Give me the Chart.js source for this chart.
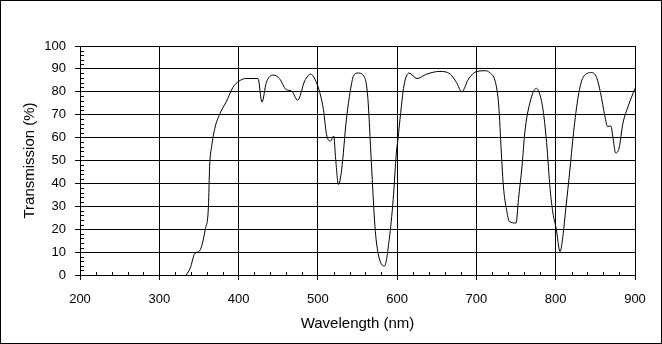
<!DOCTYPE html>
<html>
<head>
<meta charset="utf-8">
<script src="https://cdn.jsdelivr.net/npm/chart.js@4/dist/chart.umd.min.js"></script>
<style>
  html, body { margin: 0; padding: 0; background: #fff; }
  #wrap { width: 662px; height: 344px; position: relative; }
</style>
</head>
<body>
<div id="wrap"><canvas id="c" width="662" height="344"></canvas></div>
<script>
// Data
const wavelengths = [334, 339, 345, 351, 358, 362, 363.5, 366, 370, 376.5, 385, 393, 400, 409, 424.5, 429.5, 435, 444, 451.5, 460, 467, 474.5, 483.5, 491, 497, 502.5, 507, 511, 516, 520, 522.5, 526, 530, 536, 541, 545, 550.5, 559, 563, 567.5, 572, 576, 584, 590, 595, 599, 601, 604.5, 608.5, 615, 625, 637, 654, 667, 675, 681.5, 690, 700.5, 711, 717, 723.5, 727.5, 729, 730.5, 734, 738, 741.5, 750, 753, 757.5, 761, 767.5, 775.5, 780.5, 784.5, 788.5, 793, 796.5, 800.5, 805.5, 809, 813, 817.5, 822.5, 828.5, 834.5, 845.5, 851.5, 856.5, 862, 865.5, 869.5, 872.5, 875.5, 880, 884.5, 891.5, 900];
const transmission = [0, 3, 9.5, 10.6, 20, 30, 47.5, 56, 64, 70.5, 76, 82, 84.5, 85.8, 85.8, 75.5, 84, 87.3, 85.8, 81, 80.3, 76.3, 84.8, 87.7, 85, 79.6, 72.3, 61.3, 58.5, 60.7, 50.4, 39.5, 46, 68, 80.5, 87, 88.2, 86.3, 77.5, 49, 21.2, 9.5, 3.9, 15.4, 33, 53.3, 59.3, 70.9, 82.5, 88.2, 85.8, 87.7, 88.9, 87.7, 84, 80, 85.6, 88.9, 89.2, 88.3, 84.8, 76.5, 69.4, 59.3, 38.8, 28.5, 23.4, 22.7, 33, 47.5, 62.2, 75.3, 81.5, 78.2, 70.9, 57.8, 37.3, 27, 20.5, 10.2, 16.8, 30, 44.6, 62.2, 78.2, 86.3, 88.4, 86.3, 79.6, 69.4, 64.8, 65.1, 59.3, 53.3, 55.5, 65.8, 73.8, 81.5];
const xTicks = [200, 300, 400, 500, 600, 700, 800, 900];
const yTicks = [0, 10, 20, 30, 40, 50, 60, 70, 80, 90, 100];
const xMinorStep = 20;
const yMinorStep = 2;
const xTitle = 'Wavelength (nm)';
const yTitle = 'Transmission (%)';

const FONT = "'Liberation Sans', Arial, sans-serif";

const points = wavelengths.map((w, i) => ({ x: w, y: transmission[i] }));

const extras = {
  id: 'extras',
  beforeDraw(chart) {
    const ctx = chart.ctx;
    ctx.save();
    ctx.fillStyle = '#fff';
    ctx.fillRect(0, 0, chart.width, chart.height);
    ctx.restore();
  },
  afterDraw(chart) {
    const ctx = chart.ctx;
    const xs = chart.scales.x, ys = chart.scales.y;
    const area = chart.chartArea;
    ctx.save();
    ctx.strokeStyle = '#000';
    ctx.lineWidth = 1;
    ctx.beginPath();
    for (let v = xs.min + xMinorStep; v < xs.max; v += xMinorStep) {
      if (v % 100 === 0) continue;
      const px = Math.round(xs.getPixelForValue(v)) + 0.5;
      const by = Math.round(area.bottom) + 0.5;
      ctx.moveTo(px, by);
      ctx.lineTo(px, by - 3.5);
    }
    for (let v = ys.min + yMinorStep; v < ys.max; v += yMinorStep) {
      if (v % 10 === 0) continue;
      const py = Math.round(ys.getPixelForValue(v)) + 0.5;
      const lx = Math.round(area.left) + 0.5;
      ctx.moveTo(lx, py);
      ctx.lineTo(lx + 3.5, py);
    }
    ctx.stroke();
    ctx.strokeRect(0.5, 0.5, chart.width - 1, chart.height - 1);
    ctx.restore();
  }
};

new Chart(document.getElementById('c'), {
  type: 'line',
  data: {
    datasets: [{
      data: points,
      borderColor: '#000',
      borderWidth: 1,
      pointRadius: 0,
      fill: false,
      cubicInterpolationMode: 'monotone'
    }]
  },
  options: {
    responsive: false,
    animation: false,
    devicePixelRatio: 1,
    layout: { padding: { left: 0, top: 46, right: 27, bottom: 0 } },
    plugins: { legend: { display: false }, tooltip: { enabled: false } },
    scales: {
      x: {
        type: 'linear',
        min: 200, max: 900,
        afterBuildTicks(s) { s.ticks = xTicks.map(v => ({ value: v })); },
        afterFit(s) { s.height = 69; },
        grid: { color: '#000', lineWidth: 1, tickLength: 5, drawTicks: true },
        border: { color: '#000', width: 1 },
        ticks: { color: '#000', font: { family: FONT, size: 13 }, padding: 12, maxRotation: 0, autoSkip: false },
        title: { display: true, text: xTitle, color: '#000', font: { family: FONT, size: 15 }, padding: { top: 0, bottom: 11 } }
      },
      y: {
        type: 'linear',
        min: 0, max: 100,
        afterBuildTicks(s) { s.ticks = yTicks.map(v => ({ value: v })); },
        afterFit(s) { s.width = 80; },
        grid: { color: '#000', lineWidth: 1, tickLength: 5, drawTicks: true },
        border: { color: '#000', width: 1 },
        ticks: { color: '#000', font: { family: FONT, size: 13 }, padding: 9, autoSkip: false },
        title: { display: true, text: yTitle, color: '#000', font: { family: FONT, size: 15 }, padding: { top: 21, bottom: 0 } }
      }
    }
  },
  plugins: [extras]
});
</script>
</body>
</html>
